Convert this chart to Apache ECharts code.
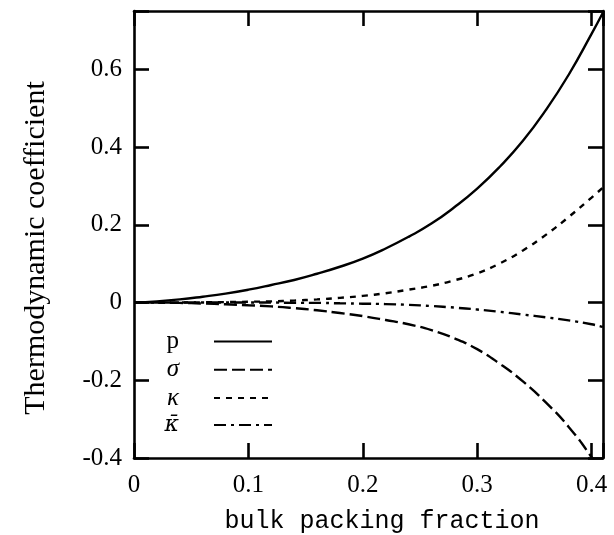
<!DOCTYPE html>
<html>
<head>
<meta charset="utf-8">
<script src="https://cdn.jsdelivr.net/npm/echarts@6/dist/echarts.min.js"></script>
<style>
  html, body { margin: 0; padding: 0; background: #fff; }
  #chart { width: 614px; height: 535px; }
</style>
</head>
<body>
<div id="chart"></div>
<script>
// bulk packing fraction sample points
const packing = [0, 0.02, 0.04, 0.06, 0.08, 0.10, 0.12, 0.14, 0.16, 0.18, 0.20,
                 0.22, 0.24, 0.26, 0.28, 0.30, 0.32, 0.34, 0.36, 0.38, 0.40, 0.41];

// thermodynamic coefficients at each packing fraction
const pCoef = [0, 0.003, 0.008, 0.015, 0.023, 0.033, 0.045, 0.058, 0.074, 0.092, 0.113,
               0.139, 0.169, 0.203, 0.245, 0.293, 0.350, 0.416, 0.495, 0.586, 0.691, 0.746];
const sigmaCoef = [0, -0.0003, -0.001, -0.0025, -0.0045, -0.007, -0.010, -0.0145, -0.020, -0.027, -0.035,
                   -0.045, -0.056, -0.071, -0.092, -0.120, -0.158, -0.203, -0.257, -0.320, -0.398, -0.445];
const kappaCoef = [0, 0, 0.0002, 0.0005, 0.001, 0.002, 0.003, 0.005, 0.008, 0.012, 0.017,
                   0.024, 0.033, 0.043, 0.057, 0.075, 0.101, 0.134, 0.174, 0.220, 0.270, 0.296];
const kappaBarCoef = [0, 0, 0, 0, 0, 0, 0, -0.001, -0.001, -0.002, -0.003,
                      -0.004, -0.006, -0.009, -0.013, -0.018, -0.024, -0.031, -0.038, -0.046, -0.056, -0.063];

const seriesNames = ['p', 'σ', 'κ', 'κ̄'];
const legendLabels = ['{up|p}', '{it|σ}', '{it|κ}', '{bar|κ̄}'];
const xTicks = [0, 0.1, 0.2, 0.3, 0.4];
const yTicks = [-0.4, -0.2, 0, 0.2, 0.4, 0.6];

const SERIF = '"Liberation Serif", "Times New Roman", serif';
const MONO = '"Liberation Mono", "Courier New", monospace';
const INK = '#000';

const pairs = ys => packing.map((x, i) => [x, ys[i]]);
const onTick = (v, list) => list.some(t => Math.abs(t - v) < 1e-9);

function frameAxis(extra) {
  return Object.assign({
    type: 'value',
    axisLine: { show: true, onZero: false, lineStyle: { color: INK, width: 2.6 } },
    axisTick: { show: true, inside: true, length: 15, lineStyle: { color: INK, width: 2.6 } },
    splitLine: { show: false },
    axisLabel: { show: false }
  }, extra);
}

const lineSeries = (name, data, type, width) => ({
  name, type: 'line', data: pairs(data),
  symbol: 'none', smooth: 0.5, clip: true,
  itemStyle: { color: INK },
  lineStyle: { color: INK, width, type },
  emphasis: { disabled: true }
});

const chart = echarts.init(document.getElementById('chart'), null, { renderer: 'canvas' });
chart.setOption({
  animation: false,
  backgroundColor: '#fff',
  grid: { left: 134, top: 11, width: 469, height: 447, containLabel: false },
  xAxis: [
    frameAxis({
      min: 0, max: 0.41, interval: 0.1, position: 'bottom',
      axisLabel: {
        show: true, margin: 15, color: INK, fontFamily: SERIF, fontSize: 25,
        formatter: v => onTick(v, xTicks) ? String(v) : ''
      }
    }),
    frameAxis({ min: 0, max: 0.41, interval: 0.1, position: 'top' })
  ],
  yAxis: [
    frameAxis({
      min: -0.4, max: 0.75, interval: 0.2, position: 'left',
      axisLabel: {
        show: true, margin: 12, color: INK, fontFamily: SERIF, fontSize: 25,
        formatter: v => onTick(v, yTicks) ? String(v) : ''
      }
    }),
    frameAxis({ min: -0.4, max: 0.75, interval: 0.2, position: 'right' })
  ],
  legend: {
    data: seriesNames,
    orient: 'vertical',
    left: 158, top: 324,
    align: 'right',
    itemWidth: 58, itemHeight: 14, itemGap: 3.3,
    selectedMode: false,
    itemStyle: { opacity: 0, borderWidth: 0 },
    formatter: name => legendLabels[seriesNames.indexOf(name)],
    textStyle: {
      color: INK, fontFamily: SERIF, fontSize: 24, lineHeight: 20,
      width: 16, padding: [0, 30, 0, 0],
      rich: {
        up: { fontFamily: SERIF, fontSize: 25, lineHeight: 20, fontStyle: 'normal', color: INK },
        it: { fontFamily: SERIF, fontSize: 25, lineHeight: 20, fontStyle: 'italic', color: INK },
        bar: { fontFamily: '"DejaVu Serif", serif', fontSize: 22, lineHeight: 20, fontStyle: 'italic', color: INK }
      }
    }
  },
  graphic: [
    {
      type: 'text', x: 382, y: 521, silent: true,
      style: { text: 'bulk packing fraction', fill: INK, font: '25px ' + MONO,
               align: 'center', verticalAlign: 'middle' }
    },
    {
      type: 'text', x: 36, y: 248, rotation: Math.PI / 2, silent: true,
      style: { text: 'Thermodynamic coefficient', fill: INK, font: '30px ' + SERIF,
               align: 'center', verticalAlign: 'middle' }
    }
  ],
  series: [
    lineSeries('p', pCoef, 'solid', 2.4),
    lineSeries('σ', sigmaCoef, [13, 5], 2.4),
    lineSeries('κ', kappaCoef, [6, 6], 2.4),
    lineSeries('κ̄', kappaBarCoef, [12, 5, 3, 5], 2.4)
  ]
});
</script>
</body>
</html>
